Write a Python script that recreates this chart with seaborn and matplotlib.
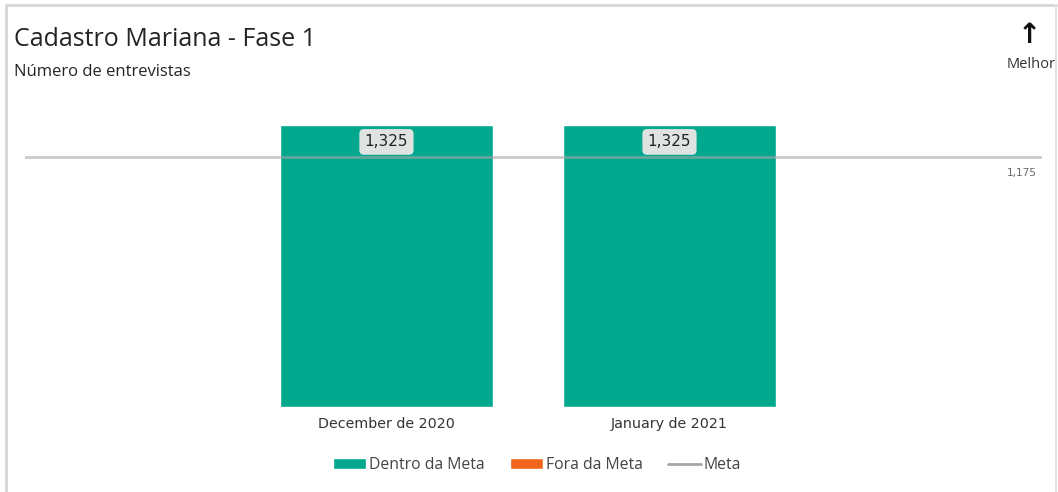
import matplotlib
matplotlib.use("Agg")
import matplotlib.pyplot as plt
from matplotlib.lines import Line2D
from matplotlib.patches import Patch
import pandas as pd
import seaborn as sns

# data
months = ["December de 2020", "January de 2021"]
entrevistas = [1325, 1325]
meta = 1175

teal = "#01A88E"
orange = "#F2661B"
meta_color = "#a6a6a6"

status = ["Dentro da Meta" if v >= meta else "Fora da Meta" for v in entrevistas]
df = pd.DataFrame({"mes": months, "entrevistas": entrevistas, "status": status})

sns.set_theme(style="white")
plt.rcParams["font.family"] = ["DejaVu Sans"]

fig = plt.figure(figsize=(10.58, 4.92), dpi=100)
ax = fig.add_axes([25 / 1058, 85 / 492, 1017 / 1058, 307 / 492])

sns.barplot(
    data=df, x="mes", y="entrevistas", hue="status",
    palette={"Dentro da Meta": teal, "Fora da Meta": orange},
    width=0.753, saturation=1, dodge=False, legend=False, ax=ax,
)
ax.axhline(meta, color=meta_color, alpha=0.6, lw=2, zorder=5)

ax.set_xlim(-1.277, 2.316)
ax.set_ylim(0, 1442)
ax.set_xlabel("")
ax.set_ylabel("")
ax.set_yticks([])
ax.tick_params(axis="x", length=0, pad=7, labelsize=10.3, labelcolor="#333333")
for s in ax.spines.values():
    s.set_visible(False)

# value labels in rounded boxes
for i, v in enumerate(entrevistas):
    ax.text(i, v - 80, f"{v:,}", ha="center", va="center", fontsize=11, color="#222222",
            bbox=dict(boxstyle="round,pad=0.35,rounding_size=0.3", fc="#dfe4e3", ec="none"),
            zorder=6)

# target value label at the right end of the line
ax.text(0.995, meta - 75, f"{meta:,}", transform=ax.get_yaxis_transform(),
        ha="right", va="center", fontsize=7.5, color="#666666")

# titles and decoration
fig.text(14 / 1058, 1 - 40 / 492, "Cadastro Mariana - Fase 1", fontsize=18,
         color="#252423", va="center", ha="left", family=["Open Sans", "DejaVu Sans"])
fig.text(14 / 1058, 1 - 72 / 492, "Número de entrevistas", fontsize=12,
         color="#252423", va="center", ha="left", family=["Open Sans", "DejaVu Sans"])
fig.text(1029 / 1058, 1 - 35 / 492, "↑", fontsize=20, fontweight="bold",
         color="#111111", va="center", ha="center")
fig.text(1031 / 1058, 1 - 64 / 492, "Melhor", fontsize=10.5,
         color="#333333", va="center", ha="center", family=["Open Sans", "DejaVu Sans"])

# frame lines around the visual
fig.add_artist(Line2D([6 / 1058, 1056 / 1058], [1 - 5 / 492] * 2, color="#d6d6d6", lw=2))
fig.add_artist(Line2D([6 / 1058] * 2, [0, 1 - 5 / 492], color="#d6d6d6", lw=2))
fig.add_artist(Line2D([1056 / 1058] * 2, [0, 1 - 5 / 492], color="#e2e2e2", lw=1.5))

handles = [
    Patch(facecolor=teal, label="Dentro da Meta"),
    Patch(facecolor=orange, label="Fora da Meta"),
    Line2D([0], [0], color=meta_color, lw=2, label="Meta"),
]
fig.legend(handles=handles, loc="center", bbox_to_anchor=(537 / 1058, 1 - 465 / 492),
           ncol=3, frameon=False, handlelength=2.1, handleheight=0.7,
           handletextpad=0.2, columnspacing=1.6, labelcolor="#444444",
           prop={"family": ["Open Sans", "DejaVu Sans"], "size": 11.3})

fig.savefig("out.png", dpi=100)
